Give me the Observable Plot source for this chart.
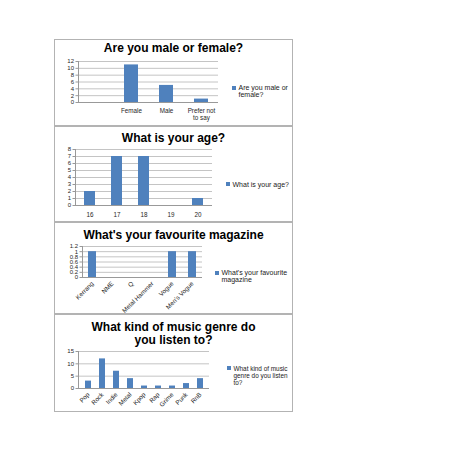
<!DOCTYPE html>
<html><head><meta charset="utf-8">
<script src="https://cdn.jsdelivr.net/npm/d3@7"></script>
<script src="https://cdn.jsdelivr.net/npm/@observablehq/plot@0.6"></script>
<style>
body{margin:0;background:#fff;width:453px;height:453px;position:relative;overflow:hidden;font-family:"Liberation Sans",Arial,sans-serif;}
.panel{position:absolute;left:54px;width:239px;background:#fff;outline:1.5px solid #b3b3b3;outline-offset:-1px;}
.panel svg{position:absolute;left:0;top:0;}
.title{position:absolute;left:0;width:100%;text-align:center;font-weight:bold;font-size:12px;line-height:13px;color:#000;}
.legend{position:absolute;font-size:7px;line-height:7.3px;color:#1a1a1a;}
.legend .mk{position:absolute;left:0;top:1.7px;width:4px;height:4px;background:#4F81BD;}
.legend .tx{margin-left:6.5px;white-space:nowrap;}
</style>
</head><body>
<script>
// ---- data ----
const genderCats = ["", "Female", "Male", "Prefer not to say"];
const genderVals = [null, 11, 5, 1];
const genderLabels = ["", "Female", "Male", "Prefer not\nto say"];
const genderTicks = [0, 2, 4, 6, 8, 10, 12];
const genderTitle = ["Are you male or female?"];
const genderLegend = ["Are you male or", "female?"];

const ageCats = ["16", "17", "18", "19", "20"];
const ageVals = [2, 7, 7, 0, 1];
const ageTicks = [0, 1, 2, 3, 4, 5, 6, 7, 8];
const ageTitle = ["What is your age?"];
const ageLegend = ["What is your age?"];

const magCats = ["Kerrang", "NME", "Q", "Metal Hammer", "Vogue", "Men's Vogue"];
const magVals = [1, 0, 0, 0, 1, 1];
const magTicks = [0, 0.2, 0.4, 0.6, 0.8, 1, 1.2];
const magTitle = ["What's your favourite magazine"];
const magLegend = ["What's your favourite", "magazine"];

const musicCats = ["Pop", "Rock", "Indie", "Metal", "Kpop", "Rap", "Grime", "Punk", "RnB"];
const musicVals = [3, 12, 7, 4, 1, 1, 1, 2, 4];
const musicTicks = [0, 5, 10, 15];
const musicTitle = ["What kind of music genre do", "you listen to?"];
const musicLegend = ["What kind of music", "genre do you listen", "to?"];

const BLUE = "#4F81BD";

function panel(cfg){
  const div = document.createElement("div");
  div.className = "panel";
  div.style.top = cfg.top + "px";
  div.style.height = cfg.h + "px";
  const data = cfg.cats.map((c, i) => ({cat: c, value: cfg.vals[i]})).filter(d => d.value != null);
  const labelOf = new Map(cfg.cats.map((c, i) => [c, cfg.labels ? cfg.labels[i] : c]));
  const chart = Plot.plot({
    width: 239, height: cfg.h,
    marginLeft: cfg.m[0], marginRight: cfg.m[1], marginTop: cfg.m[2], marginBottom: cfg.m[3],
    style: {fontFamily: "Liberation Sans, Arial, sans-serif", fontSize: "6.3px", color: "#262626", background: "transparent", overflow: "visible"},
    x: {domain: cfg.cats, paddingInner: 0.6, paddingOuter: 0.3, label: null},
    y: {domain: [0, cfg.ticks[cfg.ticks.length - 1]], label: null},
    marks: [
      Plot.gridY(cfg.ticks, {stroke: "#c4c4c4", strokeOpacity: 1}),
      Plot.barY(data, {x: "cat", y: "value", fill: BLUE}),
      Plot.axisY(cfg.ticks, {tickSize: 2.5, tickPadding: 2, stroke: "#999", tickFormat: d3.format("~g"), fontSize: 6}),
      Plot.axisX({tickSize: 0, tickPadding: cfg.xPad, tickRotate: cfg.rot || 0, tickFormat: d => labelOf.get(d), lineHeight: 1.1}),
      Plot.ruleY([0], {stroke: "#999"}),
      Plot.frame({anchor: "left", stroke: "#999"})
    ]
  });
  div.appendChild(chart);
  const t = document.createElement("div");
  t.className = "title";
  t.style.top = cfg.titleTop + "px";
  t.innerHTML = cfg.title.join("<br>");
  div.appendChild(t);
  const lg = document.createElement("div");
  lg.className = "legend";
  lg.style.left = cfg.leg[0] + "px";
  lg.style.top = cfg.leg[1] + "px";
  if (cfg.legSize) lg.style.fontSize = cfg.legSize + "px";
  lg.innerHTML = '<span class="mk"></span><div class="tx">' + cfg.legend.join("<br>") + '</div>';
  div.appendChild(lg);
  document.body.appendChild(div);
}

panel({top: 39, h: 87, cats: genderCats, vals: genderVals, labels: genderLabels, ticks: genderTicks,
  m: [24, 75, 22, 24], xPad: 6, title: genderTitle, titleTop: 3, legend: genderLegend, leg: [178, 45]});
panel({top: 126, h: 96, cats: ageCats, vals: ageVals, ticks: ageTicks,
  m: [21, 81, 23, 17], xPad: 6.5, title: ageTitle, titleTop: 6, legend: ageLegend, leg: [172, 54.5]});
panel({top: 222, h: 92, cats: magCats, vals: magVals, ticks: magTicks,
  m: [28, 91, 24, 37], xPad: 5, rot: -45, title: magTitle, titleTop: 7, legend: magLegend, leg: [161, 47]});
panel({top: 314, h: 98, cats: musicCats, vals: musicVals, ticks: musicTicks,
  m: [24, 84, 37, 24], xPad: 5, rot: -45, title: musicTitle, titleTop: 6.5, legend: musicLegend, leg: [173, 50.5], legSize: 6.4});
</script>
</body></html>
